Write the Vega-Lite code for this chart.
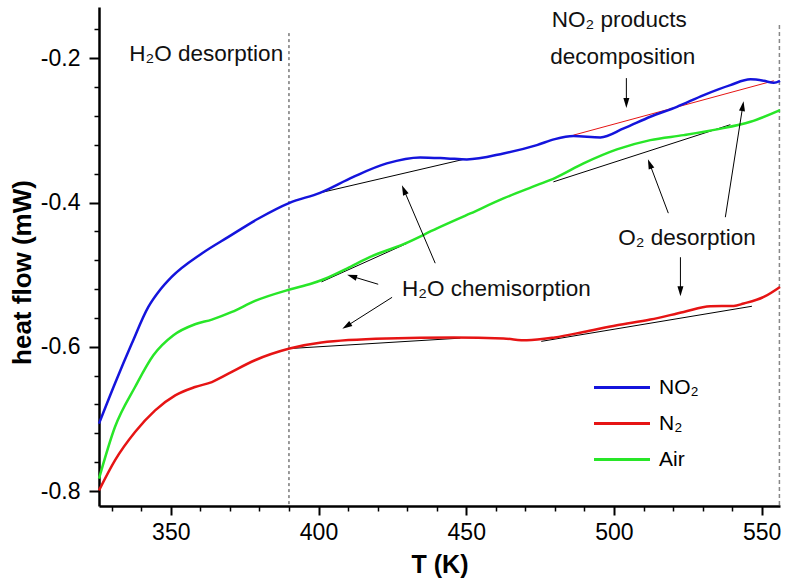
{
  "$schema": "https://vega.github.io/schema/vega-lite/v6.json",
  "autosize": {"type": "none"},
  "width": 681,
  "height": 499,
  "padding": {"left": 99, "top": 7, "right": 13, "bottom": 82},
  "background": "white",
  "config": {
    "view": {"stroke": null},
    "font": "Liberation Sans",
    "axis": {"grid": false, "labelFont": "Liberation Sans", "titleFont": "Liberation Sans", "labelColor": "#000", "titleColor": "#000", "domainColor": "#000", "tickColor": "#000"},
    "legend": {"labelFont": "Liberation Sans"}
  },
  "datasets": {
    "curves": [
      {"T": 325.7, "hf": -0.7066, "gas": "NO₂"},
      {"T": 331.1, "hf": -0.651, "gas": "NO₂"},
      {"T": 336.8, "hf": -0.5956, "gas": "NO₂"},
      {"T": 342.4, "hf": -0.5448, "gas": "NO₂"},
      {"T": 346.4, "hf": -0.521, "gas": "NO₂"},
      {"T": 350.3, "hf": -0.5031, "gas": "NO₂"},
      {"T": 360.5, "hf": -0.4706, "gas": "NO₂"},
      {"T": 369.5, "hf": -0.4476, "gas": "NO₂"},
      {"T": 379.7, "hf": -0.4221, "gas": "NO₂"},
      {"T": 390.2, "hf": -0.4004, "gas": "NO₂"},
      {"T": 400.5, "hf": -0.3865, "gas": "NO₂"},
      {"T": 411.8, "hf": -0.3643, "gas": "NO₂"},
      {"T": 423.1, "hf": -0.3457, "gas": "NO₂"},
      {"T": 434.4, "hf": -0.3374, "gas": "NO₂"},
      {"T": 443.5, "hf": -0.3388, "gas": "NO₂"},
      {"T": 450.2, "hf": -0.3402, "gas": "NO₂"},
      {"T": 462.6, "hf": -0.3319, "gas": "NO₂"},
      {"T": 473.9, "hf": -0.3203, "gas": "NO₂"},
      {"T": 480.0, "hf": -0.312, "gas": "NO₂"},
      {"T": 486.3, "hf": -0.3078, "gas": "NO₂"},
      {"T": 495.4, "hf": -0.3096, "gas": "NO₂"},
      {"T": 503.3, "hf": -0.2972, "gas": "NO₂"},
      {"T": 512.3, "hf": -0.281, "gas": "NO₂"},
      {"T": 521.3, "hf": -0.2672, "gas": "NO₂"},
      {"T": 530.4, "hf": -0.2509, "gas": "NO₂"},
      {"T": 539.4, "hf": -0.2371, "gas": "NO₂"},
      {"T": 546.2, "hf": -0.2291, "gas": "NO₂"},
      {"T": 550.7, "hf": -0.2311, "gas": "NO₂"},
      {"T": 554.1, "hf": -0.2339, "gas": "NO₂"},
      {"T": 556.2, "hf": -0.2311, "gas": "NO₂"},
      {"T": 325.7, "hf": -0.7992, "gas": "N₂"},
      {"T": 331.1, "hf": -0.7575, "gas": "N₂"},
      {"T": 337.9, "hf": -0.7182, "gas": "N₂"},
      {"T": 344.7, "hf": -0.6881, "gas": "N₂"},
      {"T": 351.5, "hf": -0.6673, "gas": "N₂"},
      {"T": 358.2, "hf": -0.6558, "gas": "N₂"},
      {"T": 363.9, "hf": -0.6489, "gas": "N₂"},
      {"T": 369.5, "hf": -0.6372, "gas": "N₂"},
      {"T": 378.5, "hf": -0.6187, "gas": "N₂"},
      {"T": 390.2, "hf": -0.6025, "gas": "N₂"},
      {"T": 401.0, "hf": -0.594, "gas": "N₂"},
      {"T": 423.1, "hf": -0.5886, "gas": "N₂"},
      {"T": 445.7, "hf": -0.5872, "gas": "N₂"},
      {"T": 462.6, "hf": -0.5886, "gas": "N₂"},
      {"T": 470.5, "hf": -0.591, "gas": "N₂"},
      {"T": 480.0, "hf": -0.587, "gas": "N₂"},
      {"T": 489.7, "hf": -0.5795, "gas": "N₂"},
      {"T": 501.0, "hf": -0.5702, "gas": "N₂"},
      {"T": 512.3, "hf": -0.5623, "gas": "N₂"},
      {"T": 523.6, "hf": -0.5517, "gas": "N₂"},
      {"T": 532.6, "hf": -0.5438, "gas": "N₂"},
      {"T": 540.5, "hf": -0.5434, "gas": "N₂"},
      {"T": 543.9, "hf": -0.54, "gas": "N₂"},
      {"T": 550.7, "hf": -0.5309, "gas": "N₂"},
      {"T": 556.2, "hf": -0.517, "gas": "N₂"},
      {"T": 325.7, "hf": -0.7829, "gas": "Air"},
      {"T": 331.1, "hf": -0.7113, "gas": "Air"},
      {"T": 337.9, "hf": -0.6558, "gas": "Air"},
      {"T": 344.1, "hf": -0.6118, "gas": "Air"},
      {"T": 350.9, "hf": -0.584, "gas": "Air"},
      {"T": 358.2, "hf": -0.5688, "gas": "Air"},
      {"T": 363.9, "hf": -0.5623, "gas": "Air"},
      {"T": 370.7, "hf": -0.5517, "gas": "Air"},
      {"T": 378.5, "hf": -0.5364, "gas": "Air"},
      {"T": 390.2, "hf": -0.5206, "gas": "Air"},
      {"T": 397.7, "hf": -0.5123, "gas": "Air"},
      {"T": 402.0, "hf": -0.506, "gas": "Air"},
      {"T": 409.6, "hf": -0.4915, "gas": "Air"},
      {"T": 417.5, "hf": -0.4754, "gas": "Air"},
      {"T": 428.8, "hf": -0.4577, "gas": "Air"},
      {"T": 440.1, "hf": -0.4359, "gas": "Air"},
      {"T": 451.4, "hf": -0.4151, "gas": "Air"},
      {"T": 462.6, "hf": -0.3943, "gas": "Air"},
      {"T": 473.9, "hf": -0.3759, "gas": "Air"},
      {"T": 480.0, "hf": -0.366, "gas": "Air"},
      {"T": 489.7, "hf": -0.3457, "gas": "Air"},
      {"T": 501.0, "hf": -0.3263, "gas": "Air"},
      {"T": 512.3, "hf": -0.3134, "gas": "Air"},
      {"T": 523.6, "hf": -0.3065, "gas": "Air"},
      {"T": 534.9, "hf": -0.2985, "gas": "Air"},
      {"T": 546.2, "hf": -0.288, "gas": "Air"},
      {"T": 556.2, "hf": -0.2718, "gas": "Air"}
    ],
    "tangents": [
      {"seg": "t1", "T": 400.5, "hf": -0.3865},
      {"seg": "t1", "T": 449.0, "hf": -0.3402},
      {"seg": "t2", "T": 401.0, "hf": -0.51},
      {"seg": "t2", "T": 430.0, "hf": -0.4565},
      {"seg": "t3", "T": 390.0, "hf": -0.6025},
      {"seg": "t3", "T": 448.0, "hf": -0.588},
      {"seg": "t4", "T": 479.5, "hf": -0.3713},
      {"seg": "t4", "T": 539.4, "hf": -0.292},
      {"seg": "t5", "T": 475.4, "hf": -0.5925},
      {"seg": "t5", "T": 546.7, "hf": -0.5438}
    ],
    "baseline": [
      {"T": 486.3, "hf": -0.3065},
      {"T": 554.1, "hf": -0.2311}
    ],
    "arrows": [
      {"id": "a1", "T": 504.2, "hf": -0.2274, "T2": 504.2, "hf2": -0.262},
      {"id": "a2", "T": 420.2, "hf": -0.5133, "T2": 411.3, "hf2": -0.5023},
      {"id": "a3", "T": 424.9, "hf": -0.5314, "T2": 409.5, "hf2": -0.5714},
      {"id": "a4", "T": 439.5, "hf": -0.4841, "T2": 428.9, "hf2": -0.3824},
      {"id": "a5", "T": 518.4, "hf": -0.4147, "T2": 512.1, "hf2": -0.3463},
      {"id": "a6", "T": 537.7, "hf": -0.4203, "T2": 543.6, "hf2": -0.2662},
      {"id": "a7", "T": 522.5, "hf": -0.4758, "T2": 522.5, "hf2": -0.523}
    ],
    "labels": [
      {"T": 362.0, "hf": -0.194, "text": "H₂O desorption"},
      {"T": 501.8, "hf": -0.1465, "text": "NO₂ products"},
      {"T": 503.0, "hf": -0.1985, "text": "decomposition"},
      {"T": 460.2, "hf": -0.5205, "text": "H₂O chemisorption"},
      {"T": 524.7, "hf": -0.4485, "text": "O₂ desorption"}
    ],
    "vlines": [
      {"id": "desorption", "T": 390, "top": -0.165, "bottom": -0.8208},
      {"id": "end", "T": 556, "top": -0.1538, "bottom": -0.8208}
    ]
  },
  "resolve": {"axis": {"x": "independent", "y": "independent"}},
  "layer": [
    {
      "layer": [
        {
          "data": {"name": "vlines"},
          "transform": [{"filter": "datum.id == 'desorption'"}],
          "mark": {"type": "rule", "strokeDash": [3, 3], "color": "#333", "strokeWidth": 1},
          "encoding": {
            "x": {"field": "T", "type": "quantitative"},
            "y": {"field": "top", "type": "quantitative"},
            "y2": {"field": "bottom"}
          }
        },
        {
          "data": {"name": "vlines"},
          "transform": [{"filter": "datum.id == 'end'"}],
          "mark": {"type": "rule", "strokeDash": [4, 3], "color": "#888", "strokeWidth": 1.5},
          "encoding": {
            "x": {"field": "T", "type": "quantitative"},
            "y": {"field": "top", "type": "quantitative"},
            "y2": {"field": "bottom"}
          }
        },
        {
          "data": {"name": "tangents"},
          "mark": {"type": "line", "color": "#000", "strokeWidth": 1},
          "encoding": {
            "x": {"field": "T", "type": "quantitative"},
            "y": {"field": "hf", "type": "quantitative"},
            "detail": {"field": "seg"}
          }
        },
        {
          "data": {"name": "baseline"},
          "mark": {"type": "line", "color": "#e61414", "strokeWidth": 1},
          "encoding": {
            "x": {"field": "T", "type": "quantitative"},
            "y": {"field": "hf", "type": "quantitative"}
          }
        },
        {
          "data": {"name": "curves"},
          "mark": {"type": "line", "strokeWidth": 2.5, "interpolate": "monotone"},
          "encoding": {
            "x": {
              "field": "T", "type": "quantitative",
              "scale": {"domain": [325.7, 556.2], "nice": false, "zero": false},
              "axis": {"orient": "bottom", "title": "T (K)", "values": [350, 400, 450, 500, 550], "tickSize": 9, "tickWidth": 2, "domainWidth": 2.5, "labelFontSize": 23, "labelPadding": 6, "titleFontSize": 25, "titleFontWeight": "bold", "titlePadding": 8, "labelFlush": false}
            },
            "y": {
              "field": "hf", "type": "quantitative",
              "scale": {"domain": [-0.8208, -0.1288], "nice": false, "zero": false},
              "axis": {"orient": "left", "title": "heat flow (mW)", "values": [-0.8, -0.6, -0.4, -0.2], "format": ".1f", "labelExpr": "replace(datum.label, '\u2212', '-')", "tickSize": 10, "tickWidth": 2, "domainWidth": 2.5, "labelFontSize": 23, "labelPadding": 9, "titleFontSize": 26, "titleFontWeight": "bold", "titlePadding": 5, "titleY": 265, "labelFlush": false}
            },
            "color": {
              "field": "gas", "type": "nominal",
              "scale": {"domain": ["NO₂", "N₂", "Air"], "range": ["#1414dc", "#e61414", "#28e628"]},
              "legend": {"orient": "none", "legendX": 507.5, "legendY": 365, "title": null, "padding": 0, "symbolType": "M-2,0H2", "symbolSize": 784, "symbolStrokeWidth": 3, "labelFontSize": 21, "labelOffset": 21.5, "rowPadding": 10, "labelColor": "#000"}
            }
          }
        },
        {
          "data": {"name": "arrows"},
          "mark": {"type": "rule", "color": "#000", "strokeWidth": 1},
          "encoding": {
            "x": {"field": "T", "type": "quantitative"},
            "y": {"field": "hf", "type": "quantitative"},
            "x2": {"field": "T2"},
            "y2": {"field": "hf2"}
          }
        },
        {
          "data": {"name": "arrows"},
          "transform": [{"filter": "datum.id == 'a1' || datum.id == 'a7'"}],
          "mark": {"type": "point", "shape": "M0,-1L0.6,1L-0.6,1Z", "filled": true, "color": "#000", "size": 100, "opacity": 1, "angle": 180},
          "encoding": {"x": {"field": "T2", "type": "quantitative"}, "y": {"field": "hf2", "type": "quantitative"}}
        },
        {
          "data": {"name": "arrows"},
          "transform": [{"filter": "datum.id == 'a2'"}],
          "mark": {"type": "point", "shape": "M0,-1L0.6,1L-0.6,1Z", "filled": true, "color": "#000", "size": 100, "opacity": 1, "angle": 287},
          "encoding": {"x": {"field": "T2", "type": "quantitative"}, "y": {"field": "hf2", "type": "quantitative"}}
        },
        {
          "data": {"name": "arrows"},
          "transform": [{"filter": "datum.id == 'a3'"}],
          "mark": {"type": "point", "shape": "M0,-1L0.6,1L-0.6,1Z", "filled": true, "color": "#000", "size": 100, "opacity": 1, "angle": 238},
          "encoding": {"x": {"field": "T2", "type": "quantitative"}, "y": {"field": "hf2", "type": "quantitative"}}
        },
        {
          "data": {"name": "arrows"},
          "transform": [{"filter": "datum.id == 'a4'"}],
          "mark": {"type": "point", "shape": "M0,-1L0.6,1L-0.6,1Z", "filled": true, "color": "#000", "size": 100, "opacity": 1, "angle": 337},
          "encoding": {"x": {"field": "T2", "type": "quantitative"}, "y": {"field": "hf2", "type": "quantitative"}}
        },
        {
          "data": {"name": "arrows"},
          "transform": [{"filter": "datum.id == 'a5'"}],
          "mark": {"type": "point", "shape": "M0,-1L0.6,1L-0.6,1Z", "filled": true, "color": "#000", "size": 100, "opacity": 1, "angle": 339},
          "encoding": {"x": {"field": "T2", "type": "quantitative"}, "y": {"field": "hf2", "type": "quantitative"}}
        },
        {
          "data": {"name": "arrows"},
          "transform": [{"filter": "datum.id == 'a6'"}],
          "mark": {"type": "point", "shape": "M0,-1L0.6,1L-0.6,1Z", "filled": true, "color": "#000", "size": 100, "opacity": 1, "angle": 9},
          "encoding": {"x": {"field": "T2", "type": "quantitative"}, "y": {"field": "hf2", "type": "quantitative"}}
        },
        {
          "data": {"name": "labels"},
          "mark": {"type": "text", "fontSize": 22.5, "font": "Liberation Sans", "color": "#111", "align": "center", "baseline": "middle"},
          "encoding": {
            "x": {"field": "T", "type": "quantitative"},
            "y": {"field": "hf", "type": "quantitative"},
            "text": {"field": "text"}
          }
        }
      ]
    },
    {
      "data": {"values": [{"T": 400, "hf": -0.5}]},
      "mark": {"type": "point", "opacity": 0},
      "encoding": {
        "x": {
          "field": "T", "type": "quantitative",
          "axis": {"orient": "bottom", "values": [330, 340, 360, 370, 380, 390, 410, 420, 430, 440, 460, 470, 480, 490, 510, 520, 530, 540], "labels": false, "domain": false, "tickSize": 5, "tickWidth": 1.5, "title": null}
        },
        "y": {
          "field": "hf", "type": "quantitative",
          "axis": {"orient": "left", "values": [-0.16, -0.24, -0.28, -0.32, -0.36, -0.44, -0.48, -0.52, -0.56, -0.64, -0.68, -0.72, -0.76], "labels": false, "domain": false, "tickSize": 5, "tickWidth": 1.5, "title": null}
        }
      }
    }
  ]
}
